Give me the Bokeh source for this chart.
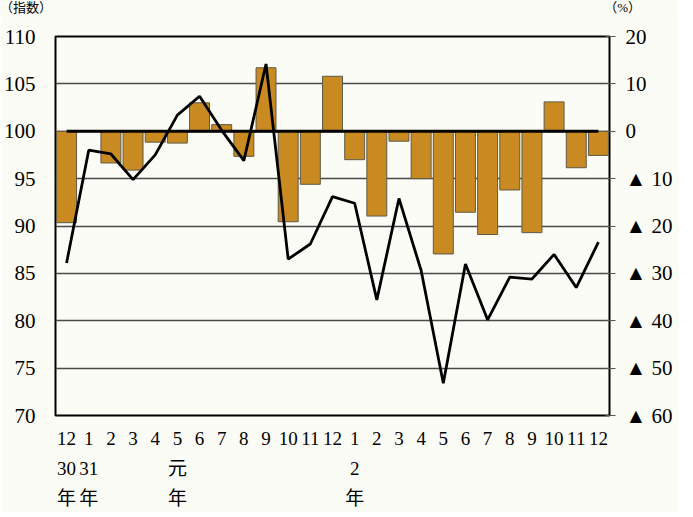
from bokeh.plotting import figure
from bokeh.models import Range1d, LinearAxis, FixedTicker, Div
from bokeh.layouts import column
from bokeh.embed import file_html
from bokeh.resources import INLINE

# month labels (H30.12 .. R2.12)
months = ["12", "1", "2", "3", "4", "5", "6", "7", "8", "9", "10", "11", "12",
          "1", "2", "3", "4", "5", "6", "7", "8", "9", "10", "11", "12"]
year_marks = {0: "30\n年", 1: "31\n年", 5: "元\n年", 13: "2\n年"}

# index (left axis)
index_vals = [86.1, 98.0, 97.6, 94.9, 97.5, 101.7, 103.7, 100.1, 96.9, 107.1,
              86.5, 88.1, 93.1, 92.4, 82.2, 92.9, 85.3, 73.4, 86.0, 80.1,
              84.6, 84.4, 87.0, 83.5, 88.3]
# year-on-year change % (right axis)
pct_vals = [-19.3, 0.0, -6.7, -8.2, -2.3, -2.5, 6.0, 1.4, -5.3, 13.4,
            -19.1, -11.2, 11.6, -6.0, -17.9, -2.1, -10.0, -25.9, -17.1, -21.8,
            -12.4, -21.4, 6.2, -7.7, -5.1]

left_ticks = [70, 75, 80, 85, 90, 95, 100, 105, 110]
right_ticks = [-60, -50, -40, -30, -20, -10, 0, 10, 20]
right_labels = {v: (str(v) if v >= 0 else "▲ " + str(-v)) for v in right_ticks}

unit_left = "（指数）"
unit_right = "（%）"

xs = list(range(len(months)))

SERIF = "'Liberation Serif', 'Noto Sans CJK JP', serif"
BG = "#fcfcf6"

header = Div(
    text=('<div style="display:flex;justify-content:space-between;width:677px;'
          'font-family:\'Liberation Serif\',\'Noto Sans CJK JP\',serif;font-size:13px;'
          'line-height:14px;color:black;background:%s;">'
          '<span>%s</span><span style="margin-right:36px">%s</span></div>')
    % (BG, unit_left, unit_right),
    width=677, height=14, margin=(0, 0, 0, 0),
    styles={"background-color": BG})

p = figure(frame_width=554, frame_height=379, output_backend="svg",
           toolbar_location=None,
           x_range=Range1d(-0.5, len(months) - 0.5), y_range=Range1d(70, 110),
           min_border_left=44, min_border_right=70, min_border_top=22,
           min_border_bottom=80, background_fill_color=BG,
           border_fill_color=BG, margin=(0, 0, 0, 0))
p.extra_y_ranges = {"pct": Range1d(-60, 20)}

p.outline_line_color = "black"
p.outline_line_width = 2

# grid
p.xgrid.visible = False
p.ygrid.ticker = FixedTicker(ticks=left_ticks)
p.ygrid.grid_line_color = "#4a4a4a"
p.ygrid.grid_line_width = 1.5

# bars
p.vbar(x=xs, top=pct_vals, bottom=0, width=0.9, y_range_name="pct",
       fill_color="#c98a22", line_color="#5e5a48", line_width=1)

# zero line
p.line(x=[xs[0], xs[-1]], y=[0, 0], y_range_name="pct", line_color="black",
       line_width=3)

# index line
p.line(x=xs, y=index_vals, line_color="black", line_width=2.8)

# left axis
ya = p.yaxis[0]
ya.ticker = FixedTicker(ticks=left_ticks)
ya.major_tick_line_color = None
ya.minor_tick_line_color = None
ya.axis_line_color = None
ya.major_label_text_font = SERIF
ya.major_label_text_font_size = "21px"
ya.major_label_text_color = "black"
ya.major_label_standoff = 14

# right axis
ra = LinearAxis(y_range_name="pct", ticker=FixedTicker(ticks=right_ticks))
ra.major_label_overrides = right_labels
ra.major_tick_in = 4
ra.major_tick_out = 6
ra.major_tick_line_color = "#555555"
ra.minor_tick_line_color = None
ra.axis_line_color = None
ra.major_label_text_font = SERIF
ra.major_label_text_font_size = "21px"
ra.major_label_text_color = "black"
ra.major_label_standoff = 10
p.add_layout(ra, "right")

# bottom axis
xa = p.xaxis[0]
xa.ticker = FixedTicker(ticks=xs)
xa.major_label_overrides = {i: (m + ("\n" + year_marks[i] if i in year_marks else ""))
                            for i, m in enumerate(months)}
xa.major_tick_line_color = None
xa.minor_tick_line_color = None
xa.axis_line_color = None
xa.major_label_text_font = SERIF
xa.major_label_text_font_size = "19px"
xa.major_label_text_color = "black"
xa.major_label_text_line_height = 1.45
xa.major_label_standoff = 6

layout = column(header, p, spacing=0)

open("out.html", "w").write(file_html(layout, INLINE))
